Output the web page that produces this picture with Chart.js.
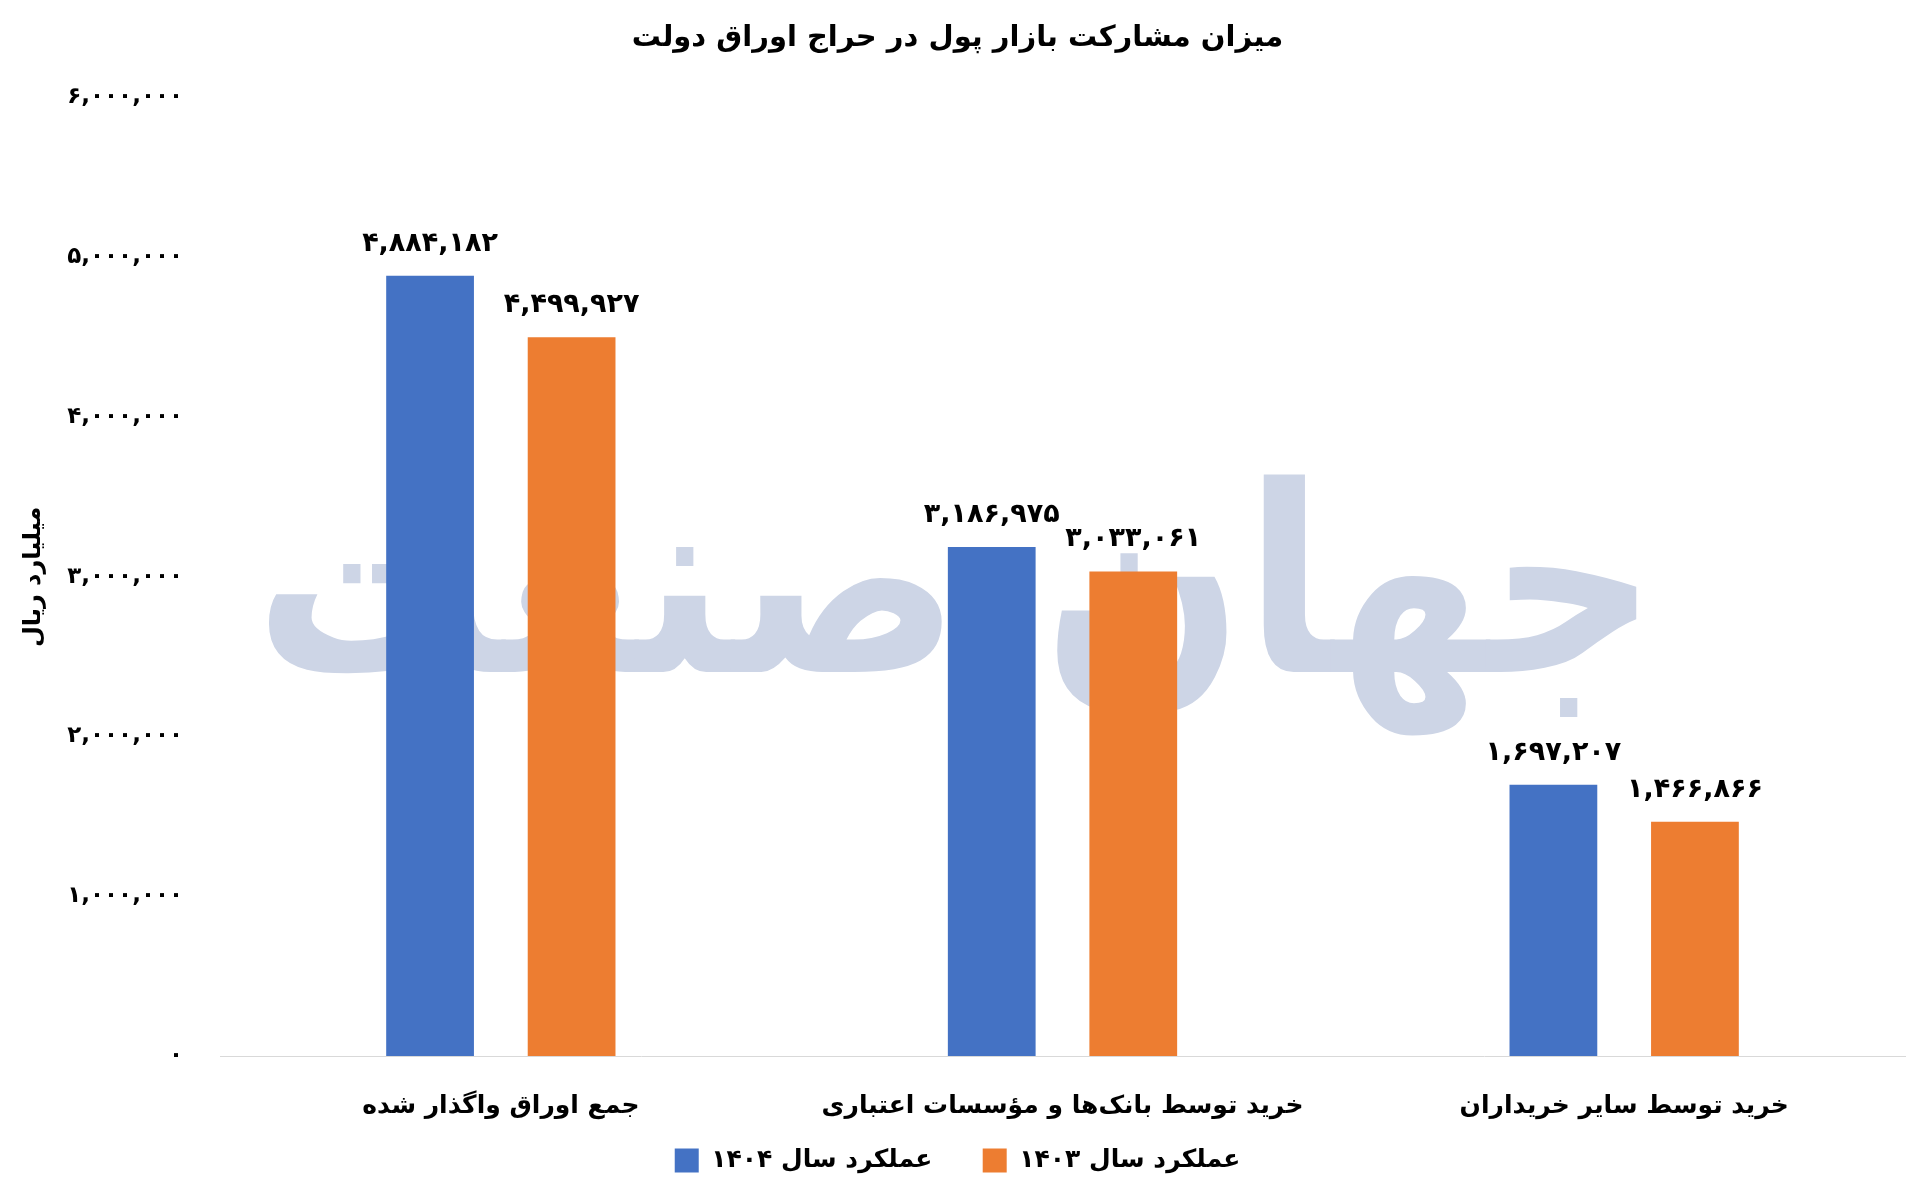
<!DOCTYPE html>
<html><head><meta charset="utf-8">
<script src="https://cdn.jsdelivr.net/npm/chart.js@4.4.0/dist/chart.umd.min.js"></script>
<style>html,body{margin:0;padding:0;background:#fff;} #wrap{width:1912px;height:1198px;position:relative;}</style>
</head><body><div id="wrap"><canvas id="c"></canvas></div>
<script>
const categories = ['جمع اوراق واگذار شده', 'خرید توسط بانک‌ها و مؤسسات اعتباری', 'خرید توسط سایر خریداران'];
const seriesNames = ['عملکرد سال ۱۴۰۴', 'عملکرد سال ۱۴۰۳'];
const values1404 = [4884182, 3186975, 1697207];
const values1403 = [4499927, 3033061, 1466866];
const yTicks = [0, 1000000, 2000000, 3000000, 4000000, 5000000, 6000000];
const chartTitle = 'میزان مشارکت بازار پول در حراج اوراق دولت';
const yAxisTitle = 'میلیارد ریال';
const watermarkText = 'جهان صنعت';

const FONT = '"DejaVu Sans", "Noto Sans", sans-serif';
const faDigits = '۰۱۲۳۴۵۶۷۸۹';
function fmt(n) {
  return Math.round(n).toLocaleString('en-US').replace(/\d/g, d => faDigits[d]);
}

const watermarkPlugin = {
  id: 'watermark',
  beforeDatasetsDraw(chart) {
    const ctx = chart.ctx;
    ctx.save();
    ctx.font = 'bold 260px ' + FONT;
    ctx.fillStyle = '#cdd5e6';
    ctx.textAlign = 'center';
    ctx.textBaseline = 'alphabetic';
    const w = ctx.measureText(watermarkText).width;
    const cx = 956, by = 672;
    ctx.translate(cx, by);
    ctx.scale(1404 / w, 1);
    ctx.fillText(watermarkText, 0, 0);
    ctx.restore();
  }
};

const labelPlugin = {
  id: 'barLabels',
  afterDatasetsDraw(chart) {
    const ctx = chart.ctx;
    ctx.save();
    ctx.font = 'bold 27px ' + FONT;
    ctx.fillStyle = '#000';
    ctx.textAlign = 'center';
    ctx.textBaseline = 'middle';
    chart.data.datasets.forEach((ds, i) => {
      const meta = chart.getDatasetMeta(i);
      meta.data.forEach((bar, j) => {
        ctx.fillText(fmt(ds.data[j]), bar.x, bar.y - 32);
      });
    });
    ctx.restore();
  }
};

new Chart(document.getElementById('c'), {
  type: 'bar',
  data: {
    labels: categories,
    datasets: [
      { label: seriesNames[0], data: values1404, backgroundColor: '#4472C4' },
      { label: seriesNames[1], data: values1403, backgroundColor: '#ED7D31' }
    ]
  },
  options: {
    responsive: true,
    maintainAspectRatio: false,
    animation: false,
    categoryPercentage: 0.504,
    barPercentage: 0.62,
    layout: { padding: { left: 10, right: 7, top: 0, bottom: 15 } },
    plugins: {
      title: {
        display: true, text: chartTitle, color: '#000',
        font: { family: FONT, size: 29, weight: 'bold' },
        padding: { top: 21, bottom: 41.7 }
      },
      legend: {
        position: 'bottom',
        labels: {
          color: '#000', boxWidth: 24, boxHeight: 24, padding: 28,
          font: { family: FONT, size: 25, weight: 'bold' },
          generateLabels(chart) {
            const items = Chart.defaults.plugins.legend.labels.generateLabels(chart);
            items.forEach((it, i) => { if (i < items.length - 1) it.text = it.text + '  \u2009'; });
            return items;
          }
        }
      },
      tooltip: { enabled: false }
    },
    scales: {
      x: {
        afterFit(s) { s.height = 64; },
        grid: { display: false, drawTicks: false },
        border: { display: true, color: '#d9d9d9', width: 1 },
        ticks: { color: '#000', padding: 35, maxRotation: 0, font: { family: FONT, size: 25, weight: 'bold' } }
      },
      y: {
        min: 0, max: 6000000,
        afterFit(s) { s.width = 210; },
        afterBuildTicks(s) { s.ticks = yTicks.map(v => ({ value: v })); },
        grid: { display: false, drawTicks: false },
        border: { display: false },
        ticks: { color: '#000', padding: 37, callback: v => fmt(v), font: { family: FONT, size: 23, weight: 'bold' } },
        title: { display: true, text: yAxisTitle, color: '#000', padding: { top: 9.6, bottom: 0 }, font: { family: FONT, size: 24, weight: 'bold' } }
      }
    }
  },
  plugins: [watermarkPlugin, labelPlugin]
});
</script>
</body></html>
